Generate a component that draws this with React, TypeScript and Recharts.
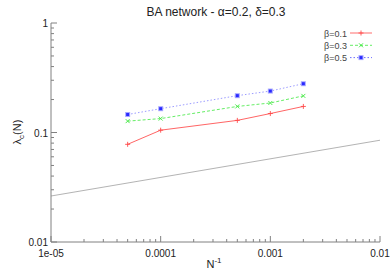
import React from "react";
import { LineChart, Line, XAxis, YAxis, Legend, Customized } from "recharts";

const nInv = [5e-5, 1e-4, 5e-4, 1e-3, 2e-3];
const beta01 = [0.078, 0.105, 0.129, 0.149, 0.173];
const beta03 = [0.127, 0.134, 0.173, 0.186, 0.216];
const beta05 = [0.146, 0.165, 0.217, 0.239, 0.279];
const refX = [1e-5, 1e-2];
const refY = [0.0263, 0.085];

const xMajorTicks = [1e-5, 1e-4, 1e-3, 1e-2];
const xTickLabels = ["1e-05", "0.0001", "0.001", "0.01"];
const yMajorTicks = [0.01, 0.1, 1];
const yTickLabels = ["0.01", "0.1", "1"];
const minorMults = [2, 3, 4, 5, 6, 7, 8, 9];

const seriesNames = ["\u03b2=0.1", "\u03b2=0.3", "\u03b2=0.5"];
const seriesColors = ["#ff4a4a", "#3ee83e", "#4a4aff"];

const FONT = "'Liberation Sans', Arial, Helvetica, sans-serif";

const withMinors = (majors: number[]) => {
  const out: number[] = [];
  for (let i = 0; i < majors.length; i++) {
    out.push(majors[i]);
    if (i < majors.length - 1) minorMults.forEach((m) => out.push(majors[i] * m));
  }
  return out;
};
const xTicks = withMinors(xMajorTicks);
const yTicks = withMinors(yMajorTicks);

const mk = (ys: number[]) => nInv.map((x, i) => ({ x, y: ys[i] }));
const d1 = mk(beta01);
const d3 = mk(beta03);
const d5 = mk(beta05);
const refData = refX.map((x, i) => ({ x, y: refY[i] }));

const majorIndex = (majors: number[], v: number) =>
  majors.findIndex((m) => Math.abs(Math.log10(m) - Math.log10(v)) < 1e-6);

const AXIS = "#808080";

const makeTick = (side: "bottom" | "top" | "left" | "right", majors: number[], labels: string[] | null) =>
  (props: any) => {
    const { x, y, payload } = props;
    const idx = majorIndex(majors, payload.value);
    const len = idx >= 0 ? 6 : 3;
    let line;
    if (side === "bottom") line = <line x1={x} x2={x} y1={y} y2={y - len} stroke={AXIS} />;
    else if (side === "top") line = <line x1={x} x2={x} y1={y} y2={y + len} stroke={AXIS} />;
    else if (side === "left") line = <line x1={x} x2={x + len} y1={y} y2={y} stroke={AXIS} />;
    else line = <line x1={x} x2={x - len} y1={y} y2={y} stroke={AXIS} />;
    let label = null;
    if (labels && idx >= 0) {
      if (side === "bottom")
        label = (
          <text x={x} y={y + 15} textAnchor="middle" fontSize={10} fontFamily={FONT} fill="#222">
            {labels[idx]}
          </text>
        );
      else if (side === "left")
        label = (
          <text x={x - 3} y={y + 4} textAnchor="end" fontSize={10} fontFamily={FONT} fill="#222">
            {labels[idx]}
          </text>
        );
    }
    return (
      <g>
        {line}
        {label}
      </g>
    );
  };

const Plus = (props: any) => {
  const { cx, cy } = props;
  if (cx == null || cy == null) return null;
  return (
    <g stroke={seriesColors[0]} strokeWidth={0.9}>
      <line x1={cx - 2.5} x2={cx + 2.5} y1={cy} y2={cy} />
      <line x1={cx} x2={cx} y1={cy - 2.5} y2={cy + 2.5} />
    </g>
  );
};
const Cross = (props: any) => {
  const { cx, cy } = props;
  if (cx == null || cy == null) return null;
  return (
    <g stroke={seriesColors[1]} strokeWidth={0.9}>
      <line x1={cx - 2} x2={cx + 2} y1={cy - 2} y2={cy + 2} />
      <line x1={cx - 2} x2={cx + 2} y1={cy + 2} y2={cy - 2} />
    </g>
  );
};
const Star = (props: any) => {
  const { cx, cy } = props;
  if (cx == null || cy == null) return null;
  return (
    <g>
      <rect x={cx - 2.5} y={cy - 2.5} width={5} height={5} fill="#a8a8ff" />
      <rect x={cx - 1.5} y={cy - 1.5} width={3} height={3} fill="#2a2aff" />
    </g>
  );
};
const markers = [Plus, Cross, Star];
const dashes = ["", "3 2", "1.5 2"];

const LegendContent = () => (
  <svg width={90} height={42} style={{ overflow: "visible" }}>
    {seriesNames.map((n, i) => {
      const y = 6 + i * 12.3;
      const M = markers[i];
      return (
        <g key={n}>
          <text x={48} y={y + 3.5} textAnchor="end" fontSize={9} fontFamily={FONT} fill="#444">
            {n}
          </text>
          <line
            x1={51}
            x2={73}
            y1={y}
            y2={y}
            stroke={seriesColors[i]}
            strokeOpacity={0.8}
            strokeDasharray={dashes[i]}
          />
          <M cx={62} cy={y} />
        </g>
      );
    })}
  </svg>
);

const Title = () => (
  <text x={216} y={16} textAnchor="middle" fontSize={12} fontFamily={FONT} fill="#222">
    BA network - {"\u03b1"}=0.2, {"\u03b4"}=0.3
  </text>
);

const YLabel = () => (
  <text
    transform="translate(21,132) rotate(-90)"
    textAnchor="middle"
    fontSize={11}
    fontFamily={FONT}
    fill="#222"
  >
    {"\u03bb"}
    <tspan fontSize={8} dy={3}>c</tspan>
    <tspan dy={-3}>(N)</tspan>
  </text>
);

const XLabel = () => (
  <text x={214} y={268} textAnchor="middle" fontSize={11} fontFamily={FONT} fill="#222">
    N<tspan fontSize={8} dy={-5}>-1</tspan>
  </text>
);

export default function App() {
  return (
    <div style={{ position: "absolute", left: 0, top: 0, background: "#fff" }}>
      <LineChart width={392} height={274} margin={{ top: 23, right: 12, bottom: 0, left: 0 }}>
        <XAxis
          xAxisId="b"
          dataKey="x"
          type="number"
          scale="log"
          domain={[1e-5, 1e-2]}
          allowDataOverflow
          ticks={xTicks}
          interval={0}
          tickLine={false}
          tickSize={0}
          tickMargin={0}
          height={32}
          axisLine={{ stroke: AXIS }}
          tick={makeTick("bottom", xMajorTicks, xTickLabels)}
        />
        <XAxis
          xAxisId="t"
          orientation="top"
          dataKey="x"
          type="number"
          scale="log"
          domain={[1e-5, 1e-2]}
          allowDataOverflow
          ticks={xTicks}
          interval={0}
          tickLine={false}
          tickSize={0}
          tickMargin={0}
          height={0}
          axisLine={{ stroke: AXIS }}
          tick={makeTick("top", xMajorTicks, null)}
        />
        <YAxis
          yAxisId="l"
          dataKey="y"
          type="number"
          scale="log"
          domain={[0.01, 1]}
          allowDataOverflow
          ticks={yTicks}
          interval={0}
          tickLine={false}
          tickSize={0}
          tickMargin={0}
          width={51}
          axisLine={{ stroke: AXIS }}
          tick={makeTick("left", yMajorTicks, yTickLabels)}
        />
        <YAxis
          yAxisId="r"
          orientation="right"
          dataKey="y"
          type="number"
          scale="log"
          domain={[0.01, 1]}
          allowDataOverflow
          ticks={yTicks}
          interval={0}
          tickLine={false}
          tickSize={0}
          tickMargin={0}
          width={0}
          axisLine={{ stroke: "#000" }}
          tick={makeTick("right", yMajorTicks, null)}
        />
        <Line
          xAxisId="b"
          yAxisId="l"
          data={refData}
          dataKey="y"
          stroke="#a0a0a0"
          strokeWidth={0.8}
          dot={false}
          isAnimationActive={false}
          legendType="none"
        />
        <Line
          xAxisId="b"
          yAxisId="l"
          data={d1}
          dataKey="y"
          name={seriesNames[0]}
          stroke={seriesColors[0]}
          strokeOpacity={0.85}
          strokeWidth={1}
          dot={<Plus />}
          isAnimationActive={false}
        />
        <Line
          xAxisId="b"
          yAxisId="l"
          data={d3}
          dataKey="y"
          name={seriesNames[1]}
          stroke={seriesColors[1]}
          strokeOpacity={0.8}
          strokeWidth={1}
          strokeDasharray={dashes[1]}
          dot={<Cross />}
          isAnimationActive={false}
        />
        <Line
          xAxisId="b"
          yAxisId="l"
          data={d5}
          dataKey="y"
          name={seriesNames[2]}
          stroke={seriesColors[2]}
          strokeOpacity={0.55}
          strokeWidth={1}
          strokeDasharray={dashes[2]}
          dot={<Star />}
          isAnimationActive={false}
        />
        <Legend
          layout="vertical"
          align="center"
          verticalAlign="middle"
          content={<LegendContent />}
          wrapperStyle={{ left: 299, top: 27, width: 90, height: 42 }}
        />
        <Customized component={<Title />} />
        <Customized component={<YLabel />} />
        <Customized component={<XLabel />} />
      </LineChart>
    </div>
  );
}
